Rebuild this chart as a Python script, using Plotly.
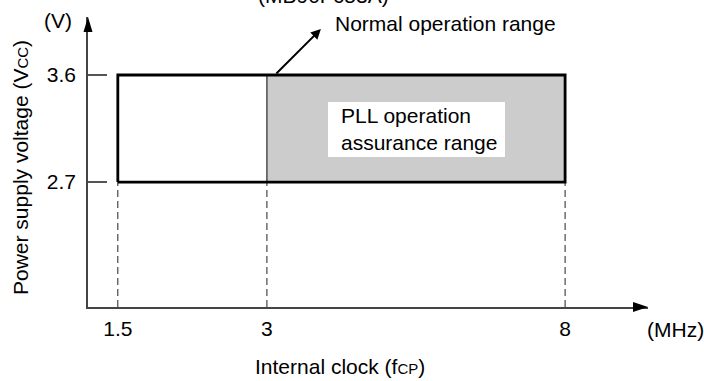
import plotly.graph_objects as go

# ---- data -------------------------------------------------------------
freq_ticks = ["1.5", "3", "8"]            # internal clock tick values (MHz)
freq_slots = ["1.5", "3", "gap", "8"]     # schematic slots of the (non-linear) clock axis
volt_ticks = [2.7, 3.6]                   # power supply voltage (V)
device_label = "(MB90F653A)"
normal_label = "Normal operation range"
pll_label = "PLL operation<br>assurance range"

f_lo, f_mid, f_hi = freq_ticks
v_lo, v_hi = volt_ticks

Y_MIN, Y_MAX = 1.649, 4.088
X_RANGE = [-0.2, 3.556]

FONT = "Liberation Sans, Arial, sans-serif"
FS = 21
AX = "#444444"

# ---- layout helpers (pixel -> paper) ---------------------------------
L, R, T, B = 88, 648, 17, 307
def px(x):
    return (x - L) / (R - L)
def py(y):
    return (B - y) / (B - T)

fig = go.Figure()

# dashed drop lines from the box to the clock axis
for f in freq_ticks:
    fig.add_trace(go.Scatter(x=[f, f], y=[Y_MIN, v_lo], mode="lines",
                             line=dict(color="#222222", width=1, dash="7px,4px"),
                             hoverinfo="skip", showlegend=False))

# normal-only region (white) and PLL region (grey)
fig.add_trace(go.Scatter(x=[f_lo, f_mid, f_mid, f_lo, f_lo], y=[v_lo, v_lo, v_hi, v_hi, v_lo],
                         mode="lines", fill="toself", fillcolor="white",
                         line=dict(width=0), hoverinfo="skip", showlegend=False))
fig.add_trace(go.Scatter(x=[f_mid, f_hi, f_hi, f_mid, f_mid], y=[v_lo, v_lo, v_hi, v_hi, v_lo],
                         mode="lines", fill="toself", fillcolor="#cccccc",
                         line=dict(width=0), hoverinfo="skip", showlegend=False))
fig.add_trace(go.Scatter(x=[f_mid, f_mid], y=[v_lo, v_hi], mode="lines",
                         line=dict(color="black", width=1),
                         hoverinfo="skip", showlegend=False))
fig.add_trace(go.Scatter(x=[f_lo, f_hi, f_hi, f_lo, f_lo], y=[v_lo, v_lo, v_hi, v_hi, v_lo],
                         mode="lines", line=dict(color="black", width=2.8),
                         hoverinfo="skip", showlegend=False))

shapes = [
    # axis arrow heads
    dict(type="path", xref="paper", yref="paper", xsizemode="pixel", ysizemode="pixel",
         xanchor=0, yanchor=1, path="M0,0 L-4.5,-15 L4.5,-15 Z",
         fillcolor="black", line=dict(width=0)),
    dict(type="path", xref="paper", yref="paper", xsizemode="pixel", ysizemode="pixel",
         xanchor=1, yanchor=0, path="M0,0 L-15,-5 L-15,5 Z",
         fillcolor="black", line=dict(width=0)),
    # white label box
    dict(type="rect", xref="paper", yref="paper", x0=px(328), x1=px(505), y0=py(157), y1=py(102),
         fillcolor="white", line=dict(width=0)),
]

ann = []
def text(t, x, y, xanchor="center", yanchor="middle", **kw):
    ann.append(dict(text=t, xref="paper", yref="paper", x=px(x), y=py(y),
                    xanchor=xanchor, yanchor=yanchor, showarrow=False,
                    font=dict(family=FONT, size=FS, color="black"), **kw))

text(device_label, 323, -4)
text(normal_label, 333, 23, xanchor="left")
text("(V)", 58, 20)
text('Power supply voltage (V<span style="font-size:15px">CC</span>)', 20, 168, textangle=-90)
text("(MHz)", 645, 329, xanchor="left")
text('Internal clock (f<span style="font-size:15px">CP</span>)', 340, 366)
text(pll_label, 339, 129, xanchor="left", align="left")

# pointer arrow to the normal operation range
ann.append(dict(text="", xref="x", yref="y", x=(321 - 117.8) / 149.2, y=v_hi + (75 - 29) / 118.9,
                ax=-46, ay=46, showarrow=True, arrowhead=2, arrowsize=1, arrowwidth=2,
                arrowcolor="black", standoff=0))

fig.update_layout(
    width=704, height=381,
    margin=dict(l=L, r=704 - R, t=T, b=381 - B, autoexpand=False),
    paper_bgcolor="white", plot_bgcolor="white",
    font=dict(family=FONT, size=FS, color="black"),
    shapes=shapes, annotations=ann, showlegend=False,
    xaxis=dict(type="category", categoryarray=freq_slots, categoryorder="array",
               range=X_RANGE, tickmode="array", tickvals=freq_ticks, ticktext=freq_ticks,
               showgrid=False, zeroline=False, showline=True, linecolor=AX, linewidth=1.5,
               ticks="", ticklabelstandoff=2, tickfont=dict(size=FS), automargin=False),
    yaxis=dict(range=[Y_MIN, Y_MAX], tickmode="array", tickvals=volt_ticks,
               ticktext=[f"{v:.1f}" for v in volt_ticks],
               showgrid=False, zeroline=False, showline=True, linecolor=AX, linewidth=1.5,
               ticks="inside", ticklen=19, tickcolor="#555555", tickwidth=1.5,
               ticklabelstandoff=6, tickfont=dict(size=FS), automargin=False),
)

fig.write_html("out.html", config={"displayModeBar": False},
               post_script="document.body.style.margin='0px';")
